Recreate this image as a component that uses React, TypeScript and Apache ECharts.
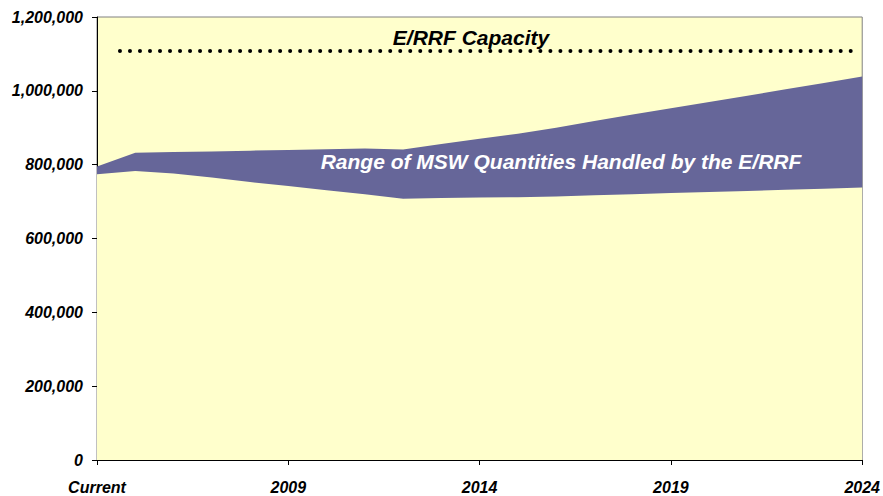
import React, { useEffect, useRef } from "react";
import * as echarts from "echarts";

// x positions: years after "Current" (2004) -> 0..20
const xIndex = [0, 1, 2, 3, 4, 5, 6, 7, 8, 9, 10, 11, 12, 13, 14, 15, 16, 17, 18, 19, 20];
const upperBound = [
  795000, 832000, 834000, 836000, 838000, 840000, 842000, 844000, 841000, 856000,
  870000, 884000, 900000, 918000, 936000, 953000, 970000, 987000, 1004000, 1021000, 1039000,
];
const lowerBound = [
  774000, 783000, 776000, 765000, 753000, 742000, 731000, 720000, 708000, 710000,
  711000, 712000, 714000, 717000, 720000, 723000, 726000, 729000, 732000, 735000, 738000,
];
const capacityX = [0.6, 19.8];
const capacityValue = 1108000;
const xTickLabels = ["Current", "2009", "2014", "2019", "2024"];
const yTicks = [0, 200000, 400000, 600000, 800000, 1000000, 1200000];

const labelFont = {
  fontFamily: "Liberation Sans, Arial, sans-serif",
  fontWeight: "bold" as const,
  fontStyle: "italic" as const,
  fontSize: 16,
  color: "#000",
};

export default function App() {
  const ref = useRef<HTMLDivElement>(null);
  useEffect(() => {
    if (!ref.current) return;
    const chart = echarts.init(ref.current, null, { renderer: "svg" });
    chart.setOption({
      animation: false,
      grid: {
        left: 97,
        right: 20,
        top: 17,
        bottom: 36,
        show: true,
        backgroundColor: "#FFFFCC",
        borderColor: "#808080",
        borderWidth: 1,
      },
      xAxis: {
        type: "value",
        min: 0,
        max: 20,
        interval: 5,
        splitLine: { show: false },
        axisLine: { show: true, lineStyle: { color: "#000", width: 1 } },
        axisTick: { show: true, length: 5, lineStyle: { color: "#000" } },
        axisLabel: {
          ...labelFont,
          margin: 19,
          formatter: (v: number) => xTickLabels[Math.round(v / 5)] ?? "",
        },
      },
      yAxis: {
        type: "value",
        min: yTicks[0],
        max: yTicks[yTicks.length - 1],
        interval: 200000,
        splitLine: { show: false },
        axisLine: { show: true, lineStyle: { color: "#000", width: 1 } },
        axisTick: { show: true, length: 5, lineStyle: { color: "#000" } },
        axisLabel: {
          ...labelFont,
          margin: 14,
          formatter: (v: number) => v.toLocaleString("en-US"),
        },
      },
      series: [
        {
          type: "line",
          data: xIndex.map((x, i) => [x, upperBound[i]]),
          showSymbol: false,
          lineStyle: { width: 0 },
          areaStyle: { color: "#666699", opacity: 1 },
          z: 2,
        },
        {
          type: "line",
          data: xIndex.map((x, i) => [x, lowerBound[i]]),
          showSymbol: false,
          lineStyle: { width: 0 },
          areaStyle: { color: "#FFFFCC", opacity: 1 },
          z: 3,
        },
        {
          type: "line",
          data: capacityX.map((x) => [x, capacityValue]),
          showSymbol: false,
          lineStyle: { color: "#000", width: 4, type: [0.01, 10], cap: "round" },
          z: 4,
        },
      ],
      graphic: [
        {
          type: "text",
          x: 471,
          y: 37,
          style: {
            text: "E/RRF Capacity",
            fontFamily: "Liberation Sans, Arial, sans-serif",
            fontWeight: "bold",
            fontStyle: "italic",
            fontSize: 21,
            fill: "#000",
            align: "center",
            verticalAlign: "middle",
          },
          z: 10,
        },
        {
          type: "text",
          x: 561,
          y: 161,
          style: {
            text: "Range of MSW Quantities Handled by the E/RRF",
            fontFamily: "Liberation Sans, Arial, sans-serif",
            fontWeight: "bold",
            fontStyle: "italic",
            fontSize: 21,
            fill: "#fff",
            align: "center",
            verticalAlign: "middle",
          },
          z: 10,
        },
      ],
    });
    return () => chart.dispose();
  }, []);
  return <div ref={ref} style={{ width: 883, height: 496, position: "absolute", left: 0, top: 0 }} />;
}
